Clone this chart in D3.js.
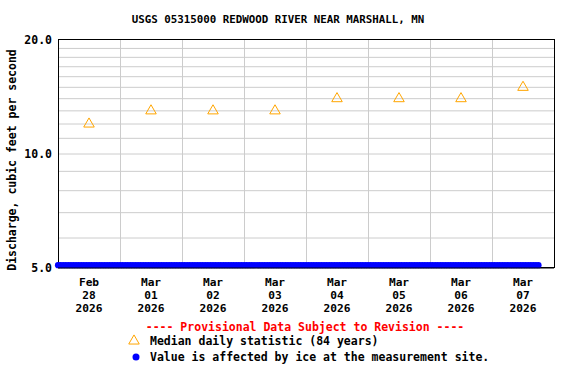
<!DOCTYPE html>
<html>
<head>
<meta charset="utf-8">
<script src="https://cdn.jsdelivr.net/npm/d3@7"></script>
<style>
  body { margin: 0; background: #fff; }
  text { font-family: "DejaVu Sans Mono", monospace; font-weight: bold; }
</style>
</head>
<body>
<div id="chart"></div>
<script>
var width = 576, height = 384;
var margin = {top: 39.5, right: 22, bottom: 116.5, left: 58};

var title = "USGS 05315000 REDWOOD RIVER NEAR MARSHALL, MN";
var yLabel = "Discharge, cubic feet per second";

// days shown on the x axis (label sits at noon of each day)
var days = ["2026-02-28", "2026-03-01", "2026-03-02", "2026-03-03",
            "2026-03-04", "2026-03-05", "2026-03-06", "2026-03-07"];
var dayLabels = [["Feb", "28", "2026"], ["Mar", "01", "2026"], ["Mar", "02", "2026"],
                 ["Mar", "03", "2026"], ["Mar", "04", "2026"], ["Mar", "05", "2026"],
                 ["Mar", "06", "2026"], ["Mar", "07", "2026"]];

// median daily statistic (84 years)
var medianValues = [12, 13, 13, 13, 14, 14, 14, 15];

// hourly ice-affected values from Feb 28 00:00 to Mar 7 18:00
var iceStart = "2026-02-28T00:00";
var iceValues = [
  5.07, 5.07, 5.07, 5.07, 5.07, 5.07, 5.07, 5.07, 5.07, 5.07, 5.07, 5.07,
  5.07, 5.07, 5.07, 5.07, 5.07, 5.07, 5.07, 5.07, 5.07, 5.07, 5.07, 5.07,
  5.07, 5.07, 5.07, 5.07, 5.07, 5.07, 5.07, 5.07, 5.07, 5.07, 5.07, 5.07,
  5.07, 5.07, 5.07, 5.07, 5.07, 5.07, 5.07, 5.07, 5.07, 5.07, 5.07, 5.07,
  5.07, 5.07, 5.07, 5.07, 5.07, 5.07, 5.07, 5.07, 5.07, 5.07, 5.07, 5.07,
  5.07, 5.07, 5.07, 5.07, 5.07, 5.07, 5.07, 5.07, 5.07, 5.07, 5.07, 5.07,
  5.07, 5.07, 5.07, 5.07, 5.07, 5.07, 5.07, 5.07, 5.07, 5.07, 5.07, 5.07,
  5.07, 5.07, 5.07, 5.07, 5.07, 5.07, 5.07, 5.07, 5.07, 5.07, 5.07, 5.07,
  5.07, 5.07, 5.07, 5.07, 5.07, 5.07, 5.07, 5.07, 5.07, 5.07, 5.07, 5.07,
  5.07, 5.07, 5.07, 5.07, 5.07, 5.07, 5.07, 5.07, 5.07, 5.07, 5.07, 5.07,
  5.07, 5.07, 5.07, 5.07, 5.07, 5.07, 5.07, 5.07, 5.07, 5.07, 5.07, 5.07,
  5.07, 5.07, 5.07, 5.07, 5.07, 5.07, 5.07, 5.07, 5.07, 5.07, 5.07, 5.07,
  5.07, 5.07, 5.07, 5.07, 5.07, 5.07, 5.07, 5.07, 5.07, 5.07, 5.07, 5.07,
  5.07, 5.07, 5.07, 5.07, 5.07, 5.07, 5.07, 5.07, 5.07, 5.07, 5.07, 5.07,
  5.07, 5.07, 5.07, 5.07, 5.07, 5.07, 5.07, 5.07, 5.07, 5.07, 5.07, 5.07,
  5.07, 5.07, 5.07, 5.07, 5.07, 5.07, 5.07
];

var yTicks = [5, 10, 20];
var yGrid = [6, 7, 8, 9, 10, 11, 12, 13, 14, 15, 16, 17, 18, 19];

var parseDay = d3.timeParse("%Y-%m-%d");
var parseTime = d3.timeParse("%Y-%m-%dT%H:%M");

var svg = d3.select("#chart")
            .append("svg")
                .attr("width", width)
                .attr("height", height);

var x0 = parseDay(days[0]);
var x1 = d3.timeDay.offset(parseDay(days[days.length - 1]), 1);

var xScale = d3.scaleTime()
                .domain([x0, x1])
                .range([margin.left, width - margin.right]);

var yScale = d3.scaleLog()
                .domain([5, 20])
                .range([height - margin.bottom, margin.top]);

//vertical gridlines at midnight
svg.append("g")
    .attr("transform", "translate(0," + (height - margin.bottom) + ")")
    .call(d3.axisBottom(xScale)
            .tickValues(days.map(parseDay))
            .tickSize(-(height - margin.bottom - margin.top))
            .tickFormat(""))
    .call(function(g) {
        g.select(".domain").remove();
        g.selectAll("line").attr("stroke", "#cccccc");
    });

//horizontal gridlines
svg.append("g")
    .attr("transform", "translate(" + margin.left + ",0)")
    .call(d3.axisLeft(yScale)
            .tickValues(yGrid)
            .tickSize(-(width - margin.left - margin.right))
            .tickFormat(""))
    .call(function(g) {
        g.select(".domain").remove();
        g.selectAll("line").attr("stroke", "#cccccc");
    });

//frame
svg.append("rect")
    .attr("x", margin.left + 0.5)
    .attr("y", margin.top)
    .attr("width", width - margin.left - margin.right)
    .attr("height", height - margin.top - margin.bottom)
    .attr("fill", "none")
    .attr("stroke", "#000");

//y tick labels
svg.append("g")
    .attr("transform", "translate(" + margin.left + ",0)")
    .call(d3.axisLeft(yScale)
            .tickValues(yTicks)
            .tickSize(0)
            .tickPadding(6)
            .tickFormat(d3.format(".1f")))
    .call(function(g) {
        g.select(".domain").remove();
        g.selectAll("text").attr("font-size", "11.5px").attr("fill", "#000")
            .style("font-family", "'DejaVu Sans Mono', monospace")
            .style("font-weight", "bold");
    });

//x labels, three lines each
var xLab = svg.append("g").selectAll("text")
    .data(days)
    .enter()
    .append("text")
        .attr("x", function(d) { return xScale(d3.timeHour.offset(parseDay(d), 12)); })
        .attr("y", 286)
        .attr("text-anchor", "middle")
        .attr("font-size", "11.2px");
xLab.selectAll("tspan")
    .data(function(d, i) { return dayLabels[i]; })
    .enter()
    .append("tspan")
        .attr("x", function() { return this.parentNode.getAttribute("x"); })
        .attr("dy", function(d, i) { return i == 0 ? 0 : 13; })
        .text(function(d) { return d; });

//ice affected values
var iceT0 = parseTime(iceStart);
svg.append("g")
    .selectAll("circle")
    .data(iceValues)
    .enter()
    .append("circle")
        .attr("cx", function(d, i) { return xScale(d3.timeHour.offset(iceT0, i)); })
        .attr("cy", function(d) { return yScale(d); })
        .attr("r", 3.1)
        .attr("fill", "#0000ff");

//bottom line over the dots
svg.append("line")
    .attr("x1", margin.left)
    .attr("x2", width - margin.right)
    .attr("y1", height - margin.bottom + 0.5)
    .attr("y2", height - margin.bottom + 0.5)
    .attr("stroke", "#000");

//median triangles
var tri = d3.symbol().type(d3.symbolTriangle).size(48);
svg.append("g")
    .selectAll("path")
    .data(medianValues)
    .enter()
    .append("path")
        .attr("d", tri)
        .attr("transform", function(d, i) {
            return "translate(" + xScale(d3.timeHour.offset(parseDay(days[i]), 12)) + "," + (yScale(d) + 0.5) + ")";
        })
        .attr("fill", "none")
        .attr("stroke", "#ffa500")
        .attr("stroke-width", 1);

//title
svg.append("text")
    .attr("x", 278)
    .attr("y", 23)
    .attr("text-anchor", "middle")
    .attr("font-size", "10.8px")
    .text(title);

//y axis title
svg.append("text")
    .attr("transform", "translate(16,160) rotate(-90)")
    .attr("text-anchor", "middle")
    .attr("font-size", "11.5px")
    .text(yLabel);

//legend
svg.append("text")
    .attr("x", 305)
    .attr("y", 331)
    .attr("text-anchor", "middle")
    .attr("font-size", "11.5px")
    .attr("fill", "#ff0000")
    .text("---- Provisional Data Subject to Revision ----");

svg.append("path")
    .attr("d", tri)
    .attr("transform", "translate(134,341)")
    .attr("fill", "none")
    .attr("stroke", "#ffa500");
svg.append("text")
    .attr("x", 150)
    .attr("y", 345)
    .attr("font-size", "11.5px")
    .text("Median daily statistic (84 years)");

svg.append("circle")
    .attr("cx", 136)
    .attr("cy", 357)
    .attr("r", 3.5)
    .attr("fill", "#0000ff");
svg.append("text")
    .attr("x", 150)
    .attr("y", 361)
    .attr("font-size", "11.5px")
    .text("Value is affected by ice at the measurement site.");
</script>
</body>
</html>
